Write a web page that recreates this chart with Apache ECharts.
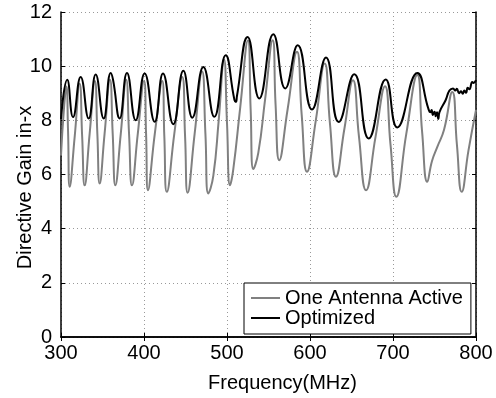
<!DOCTYPE html>
<html>
<head>
<meta charset="utf-8">
<script src="https://cdn.jsdelivr.net/npm/echarts@6/dist/echarts.min.js"></script>
<style>html,body{margin:0;padding:0;background:#fff;}#c{width:496px;height:398px;}</style>
</head>
<body>
<div id="c"></div>
<script>
var xTicks = [300, 400, 500, 600, 700, 800];
var yTicks = [0, 2, 4, 6, 8, 10, 12];
var seriesNames = ['One Antenna Active', 'Optimized'];

var oneAntenna = [
  [300, 6.7], [303.5, 8.4], [306.5, 9.25], [308.5, 7.6], [310.5, 5.55],
  [316.5, 7.4], [322.5, 9.35], [325.5, 7.4], [328.5, 5.6],
  [334.5, 7.5], [340.8, 9.45], [343.8, 7.5], [346.6, 5.67],
  [352.5, 7.5], [359, 9.5], [362.3, 7.5], [365.5, 5.6],
  [372, 7.5], [378.5, 9.5], [382, 7.5], [385.5, 5.6],
  [392.5, 7.5], [400, 9.45], [402.5, 7.5], [404.8, 5.42],
  [413, 7.5], [422, 9.45], [424.5, 7.4], [427.5, 5.36],
  [436.5, 7.5], [446, 9.6], [449.5, 7.4], [452.6, 5.33],
  [461, 7.5], [470, 9.8], [474, 7.5], [477.5, 5.3],
  [483.5, 5.95], [490, 8.0], [496.4, 10.25], [500, 7.9], [503.6, 5.6],
  [507.6, 6.2], [516, 8.5], [525.2, 10.95], [528.5, 8.4], [531.7, 6.2],
  [537.7, 6.8], [546, 8.8], [555, 10.96], [558.5, 8.6], [563, 6.53],
  [573, 8.4], [584.3, 10.53], [590, 8.2], [596.4, 6.1],
  [607, 8.0], [617.7, 10.1], [624, 7.9], [631.3, 5.92],
  [641.5, 7.7], [651.8, 9.48], [659, 7.4], [667.5, 5.42],
  [679, 7.4], [690.4, 9.26], [697, 7.1], [704, 5.18],
  [716, 7.5], [729.3, 9.67], [735, 7.6], [741.3, 5.73],
  [747, 6.5], [753.4, 7.02], [761.4, 7.64], [771.4, 9.05],
  [777, 7.1], [782.8, 5.36], [791, 6.9], [800, 8.38]
];

var optimized = [
  [300, 8.05], [307.5, 9.5], [314.5, 8.12], [323.7, 9.6], [333.3, 8.07],
  [341.8, 9.69], [351.4, 8.07], [359.9, 9.75], [362.7, 9.5], [370.7, 8.07],
  [379.5, 9.75], [390, 8.0], [400.8, 9.73], [412.9, 7.95], [422.9, 9.73],
  [435.3, 7.86], [447.4, 9.83], [458.2, 8.1], [471.5, 9.97], [484.7, 8.13],
  [498.4, 10.4], [509, 8.75], [510.8, 8.68], [512, 8.9], [524.9, 11.08], [538.9, 8.81],
  [555.8, 11.18], [570.2, 9.18], [585.2, 10.77], [602.4, 8.4], [619.3, 10.32],
  [634.6, 7.94], [653.4, 9.7], [670.7, 7.33], [691.2, 9.51], [705.2, 7.74],
  [729.3, 9.75], [742.5, 8.44], [745, 8.3], [746.5, 8.38], [748, 8.2],
  [750, 8.32], [751.5, 8.15], [753, 8.3], [754.6, 8.05], [756, 8.3],
  [763.5, 8.75], [768, 9.1], [772.3, 9.18], [775, 9.1], [777, 9.17],
  [779.5, 9.0], [782, 9.07], [784, 8.98], [786, 9.1], [788, 9.02],
  [790, 9.2], [792, 9.15], [795.5, 9.42], [797, 9.38], [800, 9.48]
];

var FONT = 'Liberation Sans, Arial, sans-serif';
var chart = echarts.init(document.getElementById('c'), null, {renderer: 'canvas'});
var gridLine = {show: true, lineStyle: {color: '#999', width: 1, type: [1, 3]}};
var tickInside = {show: true, inside: true, length: 4, lineStyle: {color: '#000', width: 1}};
var axisLine = {show: true, lineStyle: {color: '#000', width: 1.5}};

chart.setOption({
  animation: false,
  backgroundColor: '#fff',
  grid: {left: 61, right: 20, top: 12, bottom: 61, containLabel: false, outerBoundsMode: 'none'},
  legend: {
    left: 244, top: 283,
    orient: 'vertical',
    itemGap: 0,
    itemWidth: 29, itemHeight: 2,
    icon: 'rect',
    padding: [5, 8, 6, 7],
    borderColor: '#000', borderWidth: 1,
    backgroundColor: '#fff',
    textStyle: {fontFamily: FONT, fontSize: 20, color: '#000', lineHeight: 20},
    data: seriesNames
  },
  xAxis: [{
    type: 'value', min: xTicks[0], max: xTicks[xTicks.length - 1], interval: 100,
    name: 'Frequency(MHz)', nameLocation: 'middle', nameGap: 36, nameMoveOverlap: false,
    nameTextStyle: {fontFamily: FONT, fontSize: 20, color: '#000', padding: [0, 0, 0, 28]},
    axisLine: axisLine, axisTick: tickInside,
    axisLabel: {fontFamily: FONT, fontSize: 20, color: '#000', margin: 6},
    splitLine: gridLine
  }, {
    type: 'value', position: 'top', min: xTicks[0], max: xTicks[xTicks.length - 1], interval: 100,
    axisLine: axisLine, axisTick: tickInside, axisLabel: {show: false}, splitLine: {show: false}
  }],
  yAxis: [{
    type: 'value', min: yTicks[0], max: yTicks[yTicks.length - 1], interval: 2,
    name: 'Directive Gain in-x', nameLocation: 'middle', nameGap: 26, nameMoveOverlap: false,
    nameTextStyle: {fontFamily: FONT, fontSize: 20, color: '#000', padding: [0, 26, 0, 0]},
    axisLine: axisLine, axisTick: tickInside,
    axisLabel: {fontFamily: FONT, fontSize: 20, color: '#000', margin: 9},
    splitLine: gridLine
  }, {
    type: 'value', position: 'right', min: yTicks[0], max: yTicks[yTicks.length - 1], interval: 2,
    axisLine: axisLine, axisTick: tickInside, axisLabel: {show: false}, splitLine: {show: false}
  }],
  series: [{
    name: seriesNames[0], type: 'line', data: oneAntenna, smooth: 0.5,
    showSymbol: false, symbol: 'none',
    lineStyle: {color: '#808080', width: 2}, itemStyle: {color: '#808080'}, z: 2
  }, {
    name: seriesNames[1], type: 'line', data: optimized, smooth: 0.5,
    showSymbol: false, symbol: 'none',
    lineStyle: {color: '#000', width: 2}, itemStyle: {color: '#000'}, z: 3
  }]
});
</script>
</body>
</html>
